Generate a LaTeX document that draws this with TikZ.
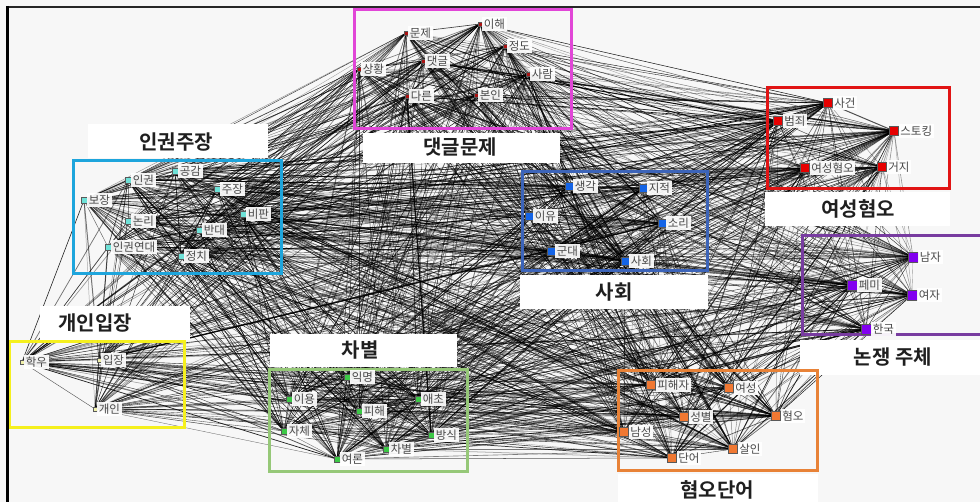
\documentclass[tikz,border=0pt]{standalone}
\usepackage{fontspec}
\setmainfont{Noto Sans CJK KR}[BoldFont={Noto Sans CJK KR Bold}]
\definecolor{bgc}{RGB}{247,247,247}
\definecolor{nA}{RGB}{170,20,20}
\definecolor{nB}{RGB}{110,225,215}
\definecolor{nC}{RGB}{240,240,170}
\definecolor{nD}{RGB}{60,200,70}
\definecolor{nE}{RGB}{20,100,230}
\definecolor{nF}{RGB}{230,0,0}
\definecolor{nG}{RGB}{130,0,240}
\definecolor{nH}{RGB}{240,120,50}
\definecolor{bA}{RGB}{225,70,215}
\definecolor{bB}{RGB}{30,165,220}
\definecolor{bC}{RGB}{245,240,30}
\definecolor{bD}{RGB}{150,200,120}
\definecolor{bE}{RGB}{60,100,185}
\definecolor{bF}{RGB}{225,20,20}
\definecolor{bG}{RGB}{120,60,160}
\definecolor{bH}{RGB}{232,130,55}
\pgfdeclarelayer{back}
\pgfdeclarelayer{edges}
\pgfdeclarelayer{titles}
\pgfsetlayers{back,edges,titles,main}
\def\allnodes{a1,a2,a3,a4,a5,a6,a7,a8,b1,b2,b3,b4,b5,b6,b7,b8,b9,c1,c2,c3,d1,d2,d3,d4,d5,d6,d7,d8,e1,e2,e3,e4,e5,e6,f1,f2,f3,f4,f5,g1,g2,g3,g4,h1,h2,h3,h4,h5,h6,h7}
\begin{document}
\begin{tikzpicture}[x=1pt,y=-1pt,
  sq/.style={rectangle,draw=black!65,line width=0.3pt,inner sep=0pt,minimum size=#1},
  lbl/.style={fill=white,fill opacity=0.93,text opacity=1,text=black!72,inner sep=1.5pt,
    font=\fontsize{11.5}{12}\selectfont,label distance=0pt},
  na/.style={sq=4pt,fill=nA},
  nb/.style={sq=6pt,fill=nB},
  nc/.style={sq=4pt,fill=nC},
  nd/.style={sq=6pt,fill=nD},
  ne/.style={sq=8pt,fill=nE},
  nf/.style={sq=9pt,fill=nF},
  ng/.style={sq=10pt,fill=nG},
  nh/.style={sq=9pt,fill=nH},
  cbox/.style={draw=#1,line width=3pt},
  tbox/.style={fill=white,draw=none},
  ttl/.style={font=\bfseries\fontsize{20}{22}\selectfont,text=black!88,inner sep=0pt},
  edge/.style={draw=black,line cap=round}]
\useasboundingbox (0,0) rectangle (980,502);
\begin{pgfonlayer}{back}
\fill[bgc] (0,0) rectangle (980,502);
\end{pgfonlayer}

% cluster boxes
\draw[cbox=bA] (354,10) rectangle (571,129);
\draw[cbox=bB] (73,161) rectangle (281,274);
\draw[cbox=bC] (9,342) rectangle (184,428);
\draw[cbox=bD] (269,370) rectangle (467,471);
\draw[cbox=bE] (522,172) rectangle (707,271);
\draw[cbox=bF] (767,88) rectangle (949,189);
\draw[cbox=bG] (985,236) -- (802,236) -- (802,335) -- (985,335);
\draw[cbox=bH] (618,371) rectangle (817,470);

% nodes
\node[na,label={[lbl]0:문제}] (a1) at (406,33) {};
\node[na,label={[lbl]0:이해}] (a2) at (480,24) {};
\node[na,label={[lbl]0:정도}] (a3) at (505,46) {};
\node[na,label={[lbl]0:댓글}] (a4) at (423,61) {};
\node[na,label={[lbl]0:상황}] (a5) at (359,69) {};
\node[na,label={[lbl]0:사람}] (a6) at (528,74) {};
\node[na,label={[lbl]0:다른}] (a7) at (407,96) {};
\node[na,label={[lbl]0:본인}] (a8) at (476,95) {};

\node[nb,label={[lbl]0:공감}] (b1) at (175,171) {};
\node[nb,label={[lbl]0:인권}] (b2) at (128,180) {};
\node[nb,label={[lbl]0:주장}] (b3) at (217,189) {};
\node[nb,label={[lbl]0:보장}] (b4) at (84,200) {};
\node[nb,label={[lbl]0:비판}] (b5) at (243,214) {};
\node[nb,label={[lbl]0:논리}] (b6) at (128,221) {};
\node[nb,label={[lbl]0:반대}] (b7) at (199,230) {};
\node[nb,label={[lbl]0:인권연대}] (b8) at (108,247) {};
\node[nb,label={[lbl]0:정치}] (b9) at (181,256) {};

\node[nc,label={[lbl]0:학우}] (c1) at (22,362) {};
\node[nc,label={[lbl]0:입장}] (c2) at (99,360) {};
\node[nc,label={[lbl]0:개인}] (c3) at (95,409) {};

\node[nd,label={[lbl]0:익명}] (d1) at (347,377) {};
\node[nd,label={[lbl]0:이용}] (d2) at (289,399) {};
\node[nd,label={[lbl]0:애초}] (d3) at (418,399) {};
\node[nd,label={[lbl]0:피해}] (d4) at (359,411) {};
\node[nd,label={[lbl]0:자체}] (d5) at (284,431) {};
\node[nd,label={[lbl]0:방식}] (d6) at (431,435) {};
\node[nd,label={[lbl]0:차별}] (d7) at (386,449) {};
\node[nd,label={[lbl]0:여론}] (d8) at (337,459) {};

\node[ne,label={[lbl]0:생각}] (e1) at (569,186) {};
\node[ne,label={[lbl]0:지적}] (e2) at (643,188) {};
\node[ne,label={[lbl]0:이유}] (e3) at (529,216) {};
\node[ne,label={[lbl]0:소리}] (e4) at (662,223) {};
\node[ne,label={[lbl]0:군대}] (e5) at (551,251) {};
\node[ne,label={[lbl]0:사회}] (e6) at (625,261) {};

\node[nf,label={[lbl]0:사건}] (f1) at (828,103) {};
\node[nf,label={[lbl]0:범죄}] (f2) at (778,121) {};
\node[nf,label={[lbl]0:스토킹}] (f3) at (894,131) {};
\node[nf,label={[lbl]0:여성혐오}] (f4) at (805,168) {};
\node[nf,label={[lbl]0:거지}] (f5) at (882,167) {};

\node[ng,label={[lbl]0:남자}] (g1) at (913,257) {};
\node[ng,label={[lbl]0:페미}] (g2) at (852,285) {};
\node[ng,label={[lbl]0:여자}] (g3) at (912,295) {};
\node[ng,label={[lbl]0:한국}] (g4) at (866,329) {};

\node[nh,label={[lbl]0:피해자}] (h1) at (651,385) {};
\node[nh,label={[lbl]0:여성}] (h2) at (729,388) {};
\node[nh,label={[lbl]0:혐오}] (h3) at (776,416) {};
\node[nh,label={[lbl]0:성별}] (h4) at (684,417) {};
\node[nh,label={[lbl]0:남성}] (h5) at (624,432) {};
\node[nh,label={[lbl]0:살인}] (h6) at (733,449) {};
\node[nh,label={[lbl]0:단어}] (h7) at (672,458) {};

% titles
\begin{pgfonlayer}{titles}
\fill[tbox] (363,133) rectangle (560,163);
\fill[tbox] (88,124) rectangle (268,158);
\fill[tbox] (40,306) rectangle (190,340);
\fill[tbox] (270,334) rectangle (457,367);
\fill[tbox] (520,275) rectangle (708,309);
\fill[tbox] (765,192) rectangle (950,226);
\fill[tbox] (800,340) rectangle (980,375);
\fill[tbox] (618,474) rectangle (818,502);
\end{pgfonlayer}
\node[ttl] (t1) at (460,147) {댓글문제};
\node[ttl] (t2) at (176,142) {인권주장};
\node[ttl] (t3) at (95,323) {개인입장};
\node[ttl] (t4) at (360,350) {차별};
\node[ttl] (t5) at (614,292) {사회};
\node[ttl] (t6) at (858,209) {여성혐오};
\node[ttl] (t7) at (893,357) {논쟁 주체};
\node[ttl] (t8) at (717,490) {혐오단어};

% frame
\draw[line width=2pt,black!85] (6,7) -- (980,7);
\draw[line width=2.5pt,black] (7.5,6) -- (7.5,502);

% edges
\begin{pgfonlayer}{edges}
\pgfmathsetseed{11}
\foreach \a [count=\i] in \allnodes {
  \foreach \b [count=\j] in \allnodes {
    \ifnum\j>\i
      \pgfmathsetmacro\op{0.30+0.65*rnd}
      \pgfmathsetmacro\lw{0.35+1.3*rnd*rnd*rnd}
      \draw[edge,line width=\lw pt,draw opacity=\op] (\a) -- (\b);
    \fi
  }
}
\end{pgfonlayer}
\end{tikzpicture}
\end{document}
